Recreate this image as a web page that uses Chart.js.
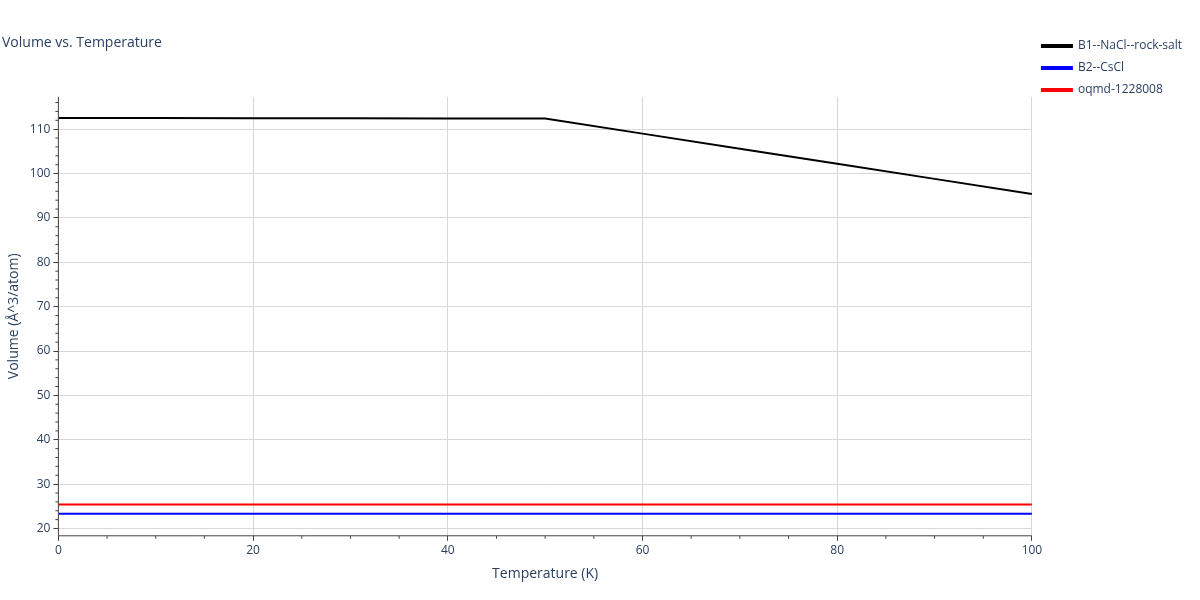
<!DOCTYPE html>
<html><head><meta charset="utf-8">
<script src="https://cdn.jsdelivr.net/npm/chart.js@4"></script>
<style>body{margin:0;background:#fff}</style>
</head><body><canvas id="c" width="1200" height="600" style="width:1200px;height:600px"></canvas>
<script>
const temps=[0,10,20,30,40,50,60,70,80,90,100];
const b1=[112.5,112.5,112.45,112.45,112.4,112.4,109.0,105.6,102.2,98.8,95.4];
const b2=[23.3,23.3,23.3,23.3,23.3,23.3,23.3,23.3,23.3,23.3,23.3];
const oq=[25.4,25.4,25.4,25.4,25.4,25.4,25.4,25.4,25.4,25.4,25.4];
const font="'Open Sans', sans-serif";
const mk=(l,d,c)=>({label:l,data:temps.map((t,i)=>({x:t,y:d[i]})),borderColor:c,backgroundColor:c,borderWidth:2,pointRadius:0,tension:0});
const minor={id:'minor',afterDraw(ch){const c=ch.ctx,x=ch.scales.x,y=ch.scales.y;c.save();c.strokeStyle='#444';c.lineWidth=1;
for(let v=5;v<100;v+=5){if(v%20===0)continue;const p=x.getPixelForValue(v);c.beginPath();c.moveTo(p,y.bottom);c.lineTo(p,y.bottom+3);c.stroke();}
for(let v=20;v<=116;v+=2){if(v%10===0)continue;const p=y.getPixelForValue(v);c.beginPath();c.moveTo(x.left,p);c.lineTo(x.left-3,p);c.stroke();}
c.beginPath();c.moveTo(x.left,y.top);c.lineTo(x.left,y.bottom);c.lineTo(x.right,y.bottom);c.stroke();c.restore();}};
new Chart(document.getElementById('c'),{type:'line',data:{datasets:[mk('B1--NaCl--rock-salt',b1,'#000'),mk('B2--CsCl',b2,'#0000ff'),mk('oqmd-1228008',oq,'#ff0000')]},
options:{responsive:false,animation:false,maintainAspectRatio:false,devicePixelRatio:1,
layout:{padding:{top:30,left:2,right:8,bottom:14}},
plugins:{title:{display:true,text:'Volume vs. Temperature',align:'start',color:'#2a3f5f',font:{family:font,size:14,weight:'normal'},padding:{top:5,bottom:45},fullSize:true},
legend:{position:'right',align:'start',labels:{boxWidth:30,boxHeight:2,color:'#2a3f5f',font:{family:font,size:12}}},tooltip:{enabled:false}},
scales:{x:{type:'linear',min:0,max:100,ticks:{stepSize:20,color:'#2a3f5f',font:{family:font,size:12}},grid:{color:'#d8d8d8',tickColor:'#444',tickLength:5},border:{display:false},
title:{display:true,text:'Temperature (K)',color:'#2a3f5f',font:{family:font,size:14}}},
y:{min:18.35,max:117.3,afterBuildTicks(s){s.ticks=[20,30,40,50,60,70,80,90,100,110].map(v=>({value:v}));},ticks:{color:'#2a3f5f',font:{family:font,size:12}},grid:{color:'#d8d8d8',tickColor:'#444',tickLength:5},border:{display:false},
title:{display:true,text:'Volume (Å^3/atom)',color:'#2a3f5f',font:{family:font,size:14}}}}},plugins:[minor]});
</script></body></html>
